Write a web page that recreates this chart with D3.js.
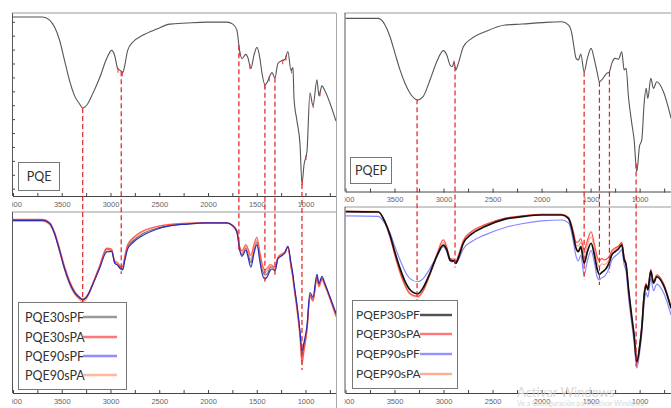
<!DOCTYPE html>
<html>
<head>
<meta charset="utf-8">
<script src="https://cdn.jsdelivr.net/npm/d3@7"></script>
<style>
  body { margin: 0; background: #fff; }
  svg { display: block; font-family: Lato, "Liberation Sans", sans-serif; }
</style>
</head>
<body>
<div id="chart"></div>
<script>
// wavenumbers (cm-1)
const wnE = [4000, 3697, 3625, 3574, 3522, 3471, 3420, 3368, 3317, 3286, 3235, 3183, 3111, 3039, 2988, 2957, 2926, 2896, 2875, 2854, 2824, 2772, 2670, 2526, 2392, 2217, 2012, 1807, 1745, 1704, 1673, 1652, 1611, 1591, 1560, 1529, 1498, 1467, 1447, 1416, 1385, 1365, 1344, 1313, 1283, 1241, 1211, 1180, 1149, 1128, 1118, 1087, 1056, 1036, 1015, 985, 954, 923, 882, 862, 831, 801, 687];
const pqe = [97.8, 97.8, 96.1, 92.3, 85.1, 74.0, 63.0, 54.7, 50.3, 48.1, 50.3, 55.8, 64.6, 75.1, 79.6, 76.8, 69.6, 68.5, 67.4, 71.3, 79.6, 84.0, 87.8, 91.2, 93.9, 94.5, 95.0, 95.0, 93.9, 90.6, 78.5, 75.1, 77.4, 75.7, 69.6, 76.8, 81.2, 75.1, 67.4, 60.8, 63.0, 65.7, 67.4, 64.6, 72.4, 74.0, 74.6, 79.0, 68.5, 70.2, 53.6, 40.9, 28.2, 6.6, 17.1, 24.3, 56.4, 49.2, 63.5, 54.7, 60.2, 57.5, 40.9];
const pqe30sPF = [95.6, 95.6, 93.9, 88.4, 79.0, 69.1, 61.3, 55.8, 53.0, 51.9, 54.1, 60.0, 69.5, 79.5, 78.5, 71.8, 70.7, 68.5, 69.0, 74.0, 80.7, 84.0, 88.0, 91.0, 92.5, 93.4, 93.9, 93.9, 92.5, 89.5, 79.5, 76.5, 80.1, 77.4, 72.0, 79.0, 83.4, 74.6, 69.1, 65.2, 66.3, 69.1, 69.6, 68.0, 74.6, 76.2, 77.4, 80.7, 70.5, 64.1, 60.0, 48.0, 33.0, 21.0, 26.5, 35.9, 54.1, 52.0, 64.1, 59.7, 63.5, 60.0, 43.1];
const pqe30sPA = [96.0, 96.0, 94.2, 89.0, 79.8, 70.0, 62.0, 56.2, 53.0, 51.5, 54.0, 60.5, 70.5, 80.0, 79.5, 73.0, 72.0, 70.0, 70.0, 75.5, 82.0, 85.5, 89.5, 92.0, 93.2, 93.8, 94.2, 94.0, 92.5, 89.5, 80.5, 78.5, 82.0, 80.0, 76.0, 82.0, 86.0, 77.5, 72.0, 68.0, 69.5, 71.0, 70.5, 69.5, 75.0, 77.0, 78.0, 81.0, 70.0, 63.5, 59.0, 46.5, 31.5, 17.3, 24.0, 34.5, 53.5, 51.0, 63.5, 59.0, 63.0, 59.5, 42.5];
const pqe90sPF = [95.4, 95.4, 93.6, 88.0, 78.5, 68.5, 60.8, 55.3, 52.5, 51.5, 53.8, 59.8, 69.0, 78.0, 78.2, 72.0, 70.5, 68.8, 68.0, 73.0, 79.5, 83.0, 87.0, 90.5, 92.3, 93.3, 94.0, 94.0, 92.3, 89.0, 78.5, 75.5, 79.0, 75.5, 69.5, 77.0, 82.0, 72.5, 66.5, 63.0, 65.0, 67.5, 68.5, 67.5, 74.0, 76.0, 77.5, 81.0, 72.0, 65.0, 60.5, 48.5, 34.0, 23.0, 28.0, 37.0, 55.5, 53.0, 65.5, 60.5, 64.5, 60.5, 44.0];
const pqe90sPA = [94.8, 94.8, 93.0, 87.5, 78.0, 68.0, 60.0, 54.5, 51.5, 50.3, 53.0, 59.5, 69.5, 79.0, 79.0, 72.5, 71.5, 69.5, 69.5, 75.0, 81.5, 85.0, 89.0, 91.8, 93.0, 93.6, 94.0, 93.8, 92.0, 88.5, 79.0, 77.0, 81.0, 78.5, 74.0, 80.0, 84.5, 76.0, 70.5, 66.5, 68.0, 70.0, 70.0, 68.5, 74.5, 76.5, 77.5, 80.5, 69.5, 62.5, 58.0, 45.5, 30.5, 15.5, 23.0, 34.0, 53.0, 50.5, 63.0, 58.5, 62.5, 59.0, 42.0];

// wavenumbers
const wnP = [4000, 3665, 3597, 3546, 3495, 3444, 3393, 3342, 3263, 3209, 3138, 3069, 3002, 2967, 2934, 2910, 2893, 2876, 2849, 2798, 2712, 2577, 2372, 2202, 1998, 1794, 1727, 1692, 1670, 1648, 1625, 1600, 1566, 1533, 1495, 1461, 1431, 1410, 1386, 1362, 1335, 1308, 1284, 1250, 1216, 1182, 1158, 1138, 1114, 1080, 1056, 1029, 1002, 978, 954, 934, 916, 886, 859, 825, 757, 679];
const pqep = [97.0, 97.0, 93.3, 86.7, 77.4, 68.1, 60.6, 55.0, 51.3, 53.1, 62.5, 72.7, 78.9, 76.5, 70.9, 69.9, 72.7, 68.1, 71.8, 81.1, 85.8, 89.5, 93.3, 93.8, 94.6, 95.1, 93.3, 88.6, 81.1, 74.6, 73.7, 77.0, 67.1, 74.6, 80.2, 73.7, 66.2, 61.5, 62.5, 64.3, 66.2, 67.1, 71.8, 74.6, 74.1, 78.3, 68.1, 69.0, 53.1, 38.2, 28.9, 11.1, 25.1, 28.9, 49.4, 57.8, 52.2, 63.4, 57.8, 61.5, 55.9, 41.0];
const pqep30sPF = [97.5, 97.3, 92.0, 85.0, 75.5, 67.0, 60.0, 55.5, 53.3, 56.5, 64.5, 73.5, 79.5, 76.9, 71.5, 71.0, 71.0, 69.7, 72.5, 80.5, 85.5, 89.5, 93.5, 94.8, 95.7, 95.7, 93.9, 88.5, 83.0, 77.8, 76.0, 78.7, 69.7, 76.0, 80.5, 74.2, 66.1, 63.8, 64.8, 65.8, 67.5, 70.5, 74.2, 76.0, 77.5, 79.6, 71.8, 68.8, 56.3, 41.0, 31.2, 16.8, 24.0, 35.0, 52.0, 58.0, 55.4, 65.5, 59.0, 62.5, 58.0, 45.5];
const pqep30sPA = [97.5, 97.3, 91.5, 84.0, 74.0, 65.0, 58.0, 53.5, 52.0, 55.0, 64.0, 74.5, 82.3, 78.5, 72.5, 72.0, 72.0, 70.5, 74.0, 82.0, 87.0, 90.5, 94.0, 95.2, 96.0, 96.0, 94.5, 90.0, 85.5, 81.0, 81.3, 83.0, 77.0, 82.0, 86.7, 80.0, 73.0, 71.0, 72.4, 71.5, 72.0, 73.5, 76.5, 78.0, 79.0, 81.0, 73.0, 69.5, 56.0, 40.0, 29.5, 15.5, 24.0, 36.0, 54.0, 59.0, 56.5, 66.5, 60.0, 63.5, 59.0, 46.0];
const pqep90sPF = [95.2, 95.0, 91.0, 86.0, 78.5, 71.5, 65.5, 61.5, 59.8, 61.5, 67.0, 73.5, 78.7, 76.0, 71.0, 70.5, 71.0, 69.5, 71.5, 77.5, 81.5, 85.0, 89.0, 91.0, 92.5, 93.0, 91.5, 86.0, 79.5, 73.5, 71.0, 74.0, 63.4, 71.0, 76.5, 70.0, 62.0, 60.8, 62.0, 62.5, 64.5, 67.5, 71.5, 73.5, 75.0, 76.9, 69.0, 65.5, 52.0, 37.0, 27.0, 13.4, 21.0, 32.0, 48.0, 54.0, 51.5, 61.7, 55.0, 58.5, 54.0, 41.9];
const pqep90sPA = [97.8, 97.6, 91.5, 83.5, 73.5, 64.5, 57.5, 53.0, 51.5, 54.5, 63.5, 73.5, 81.0, 77.8, 72.0, 71.5, 71.5, 70.0, 73.5, 81.5, 86.5, 90.0, 94.0, 95.2, 96.0, 96.0, 94.2, 89.5, 84.5, 79.5, 79.0, 81.0, 74.0, 79.5, 84.0, 77.5, 70.0, 68.0, 69.5, 69.0, 70.0, 72.0, 75.5, 77.0, 78.5, 80.5, 72.5, 69.0, 55.5, 40.0, 30.0, 16.0, 24.5, 35.5, 53.0, 58.5, 56.0, 66.0, 59.5, 63.0, 58.5, 45.8];

const peaksE = [3285, 2890, 1683, 1416, 1313, 1036];
const peaksP = [3270, 2883, 1566, 1410, 1308, 1036];
const marksE = [2923, 2878, 1673, 1570, 1416, 1372, 1234, 1200, 1142, 1033, 995, 920, 851];
const marksP = [2893];

const majorTicks = [4000, 3500, 3000, 2500, 2000, 1500, 1000];
const minorTicks = [3750, 3250, 2750, 2250, 1750, 1250, 750];

const width = 671, height = 408;

const svg = d3.select("#chart")
  .append("svg")
  .attr("width", width)
  .attr("height", height);

const xE = d3.scaleLinear().domain([4000, 687]).range([13, 336]);
const xP = d3.scaleLinear().domain([4000, 680]).range([345.5, 671]);

const panels = [
  { id: "tl", x: xE, top: 13, bottom: 196 },
  { id: "bl", x: xE, top: 212, bottom: 393 },
  { id: "tr", x: xP, top: 13, bottom: 191.5 },
  { id: "br", x: xP, top: 207, bottom: 393 }
];
panels.forEach(p => p.y = d3.scaleLinear().domain([0, 100]).range([p.bottom, p.top]));
const [TL, BL, TR, BR] = panels;

function valueAt(wn, vals, w) {
  const i = wn.findIndex(d => d <= w);
  if (i <= 0) return vals[Math.max(i, 0)];
  const t = (wn[i - 1] - w) / (wn[i - 1] - wn[i]);
  return vals[i - 1] + t * (vals[i] - vals[i - 1]);
}

// frames and axes
panels.forEach(p => {
  const [r0, r1] = p.x.range();
  const right = Math.min(r1, width);
  const g = svg.append("g");
  g.append("line").attr("x1", r0 - 1).attr("x2", right).attr("y1", p.top).attr("y2", p.top)
    .attr("stroke", "#999");
  g.append("line").attr("x1", r0 - 0.5).attr("x2", r0 - 0.5).attr("y1", p.top).attr("y2", p.bottom)
    .attr("stroke", "#555");

  g.append("clipPath").attr("id", "lab-" + p.id)
    .append("rect").attr("x", r0 - 1).attr("y", -6).attr("width", right - r0 + 1).attr("height", 20);

  const ax = g.append("g")
    .attr("transform", `translate(0,${p.bottom})`)
    .append("g")
    .attr("clip-path", `url(#lab-${p.id})`);
  ax.call(d3.axisBottom(p.x).tickValues(majorTicks).tickSizeInner(-3).tickSizeOuter(0).tickPadding(5.5).tickFormat(d3.format("d")));
  ax.append("g").call(d3.axisBottom(p.x).tickValues(minorTicks).tickSizeInner(-3).tickSizeOuter(0).tickFormat(""))
    .call(g => g.select(".domain").remove());
  ax.selectAll(".domain").attr("stroke", "#444");
  ax.selectAll(".tick line").attr("stroke", "#444").attr("y1", 1);
  ax.selectAll(".tick text").attr("fill", "#666").attr("font-size", 7.5)
    .attr("font-family", "'Liberation Sans', Arial, sans-serif");
});

// column separators
svg.append("line").attr("x1", 336.5).attr("x2", 336.5).attr("y1", 13).attr("y2", height).attr("stroke", "#aaa");

// small ticks on the left spine of the PQE panel
svg.append("g")
  .attr("transform", `translate(${xE.range()[0]},0)`)
  .call(d3.axisLeft(TL.y).tickValues(d3.range(4, 100, 7.6)).tickSize(-2).tickFormat(""))
  .call(g => g.select(".domain").remove())
  .selectAll("line").attr("stroke", "#444");

panels.forEach(p => {
  svg.append("clipPath").attr("id", "clip-" + p.id)
    .append("rect").attr("x", p.x.range()[0]).attr("y", p.top)
    .attr("width", Math.min(p.x.range()[1], width) - p.x.range()[0]).attr("height", p.bottom - p.top);
});

function drawSeries(p, wn, list) {
  const line = d3.line()
    .x((d, i) => p.x(wn[i]))
    .y(d => p.y(d))
    .curve(d3.curveMonotoneX);
  svg.append("g")
    .attr("clip-path", `url(#clip-${p.id})`)
    .attr("fill", "none")
    .selectAll("path")
    .data(list)
    .join("path")
    .attr("d", s => line(s.values))
    .attr("stroke", s => s.color)
    .attr("stroke-width", s => s.width)
    .attr("stroke-opacity", s => s.opacity)
    .attr("stroke-linejoin", "round");
}

drawSeries(TL, wnE, [{ values: pqe, color: "#555", width: 1.1, opacity: 1 }]);
drawSeries(TR, wnP, [{ values: pqep, color: "#555", width: 1.1, opacity: 1 }]);

const seriesE = [
  { name: "PQE30sPF", values: pqe30sPF, color: "#6a6a6a", legend: "#8a8a8a", width: 1.2, opacity: 1 },
  { name: "PQE30sPA", values: pqe30sPA, color: "#ff4040", legend: "#ff6060", width: 1.2, opacity: 0.85 },
  { name: "PQE90sPF", values: pqe90sPF, color: "#2424b8", legend: "#7a7aff", width: 1.2, opacity: 0.95 },
  { name: "PQE90sPA", values: pqe90sPA, color: "#ff9966", legend: "#ffad8a", width: 1.2, opacity: 0.85 }
];
const seriesP = [
  { name: "PQEP30sPF", values: pqep30sPF, color: "#111", legend: "#333", width: 1.7, opacity: 1 },
  { name: "PQEP30sPA", values: pqep30sPA, color: "#ff3030", legend: "#ff6060", width: 1.2, opacity: 0.85 },
  { name: "PQEP90sPF", values: pqep90sPF, color: "#6060ff", legend: "#8080ff", width: 1.2, opacity: 0.75 },
  { name: "PQEP90sPA", values: pqep90sPA, color: "#ff9a70", legend: "#ffa080", width: 1.2, opacity: 0.85 }
];

drawSeries(BL, wnE, [seriesE[0], seriesE[3], seriesE[1], seriesE[2]]);
drawSeries(BR, wnP, [seriesP[2], seriesP[3], seriesP[1], seriesP[0]]);

// dashed guides from the reference spectrum down to the blends
function guides(top, bot, wn, topVals, series, peaks, marks) {
  const g = svg.append("g").attr("stroke", "#e02020").attr("stroke-width", 1.2).attr("stroke-dasharray", "5,3");
  g.selectAll("line")
    .data(peaks)
    .join("line")
    .attr("x1", d => top.x(d)).attr("x2", d => top.x(d))
    .attr("y1", d => top.y(valueAt(wn, topVals, d)))
    .attr("y2", d => bot.y(d3.min(series, s => valueAt(wn, s.values, d))) + 5);

  svg.append("g").attr("stroke", "#e83030").attr("stroke-width", 1.2).attr("stroke-opacity", 0.8)
    .selectAll("line")
    .data(marks)
    .join("line")
    .attr("x1", d => top.x(d)).attr("x2", d => top.x(d))
    .attr("y1", d => top.y(valueAt(wn, topVals, d)) - 1)
    .attr("y2", d => top.y(valueAt(wn, topVals, d)) + 4);
}
guides(TL, BL, wnE, pqe, seriesE, peaksE, marksE);
guides(TR, BR, wnP, pqep, seriesP, peaksP, marksP);

// sample name boxes
function nameBox(x, y, w, h, label) {
  svg.append("rect").attr("x", x).attr("y", y).attr("width", w).attr("height", h)
    .attr("fill", "#fff").attr("stroke", "#777");
  svg.append("text").attr("x", x + w / 2).attr("y", y + h / 2 + 4.5)
    .attr("text-anchor", "middle").attr("font-size", 12.5).attr("fill", "#333").text(label);
}
nameBox(18.5, 162.5, 41, 28, "PQE");
nameBox(350.5, 157.5, 41, 26, "PQEP");

// legends
function legend(x, y, w, h, series, rows, textX, lineX, fontSize) {
  const g = svg.append("g");
  g.append("rect").attr("x", x).attr("y", y).attr("width", w).attr("height", h)
    .attr("fill", "#fff").attr("stroke", "#777");
  const row = g.selectAll("g").data(series).join("g")
    .attr("transform", (d, i) => `translate(0,${rows[i]})`);
  row.append("text").attr("x", textX).attr("y", fontSize * 0.36)
    .attr("font-size", fontSize).attr("fill", "#333").text(d => d.name);
  row.append("line").attr("x1", lineX[0]).attr("x2", lineX[1])
    .attr("stroke", d => d.legend).attr("stroke-width", 2.4).attr("stroke-opacity", 0.85);
}
legend(18.5, 302.5, 108, 87, seriesE, [317, 337, 356, 375], 25, [83, 117], 12.5);
legend(352.5, 300.5, 105, 88, seriesP, [315, 334, 354, 374], 356, [420, 452], 12);

// watermark
svg.append("text").attr("x", 517).attr("y", 397).attr("font-size", 13)
  .attr("fill", "#cfcfcf").attr("fill-opacity", 0.85).text("Activar Windows");
svg.append("text").attr("x", 517).attr("y", 406).attr("font-size", 7)
  .attr("fill", "#d6d6d6").text("Ve a Configuración para activar Windows.");
</script>
</body>
</html>
